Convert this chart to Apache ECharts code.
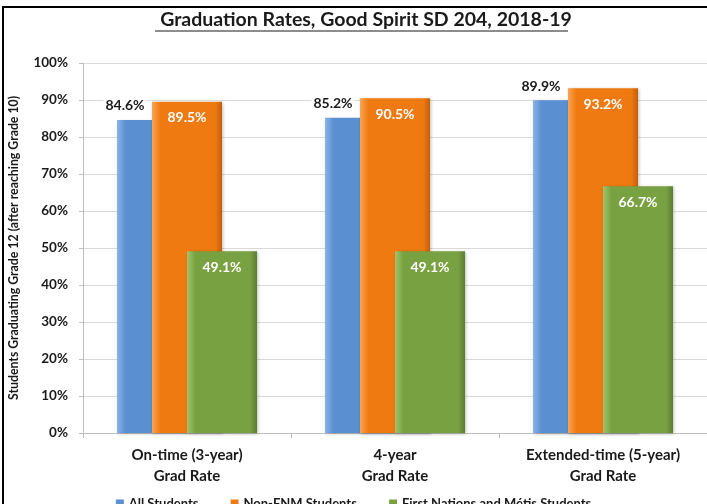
<!DOCTYPE html>
<html><head><meta charset="utf-8">
<script src="https://cdn.jsdelivr.net/npm/echarts@6/dist/echarts.min.js"></script>
<style>html,body{margin:0;padding:0;background:#fff}#c{width:707px;height:504px}</style>
</head><body><div id="c"></div>
<script>
const categories = ['On-time (3-year)\nGrad Rate', '4-year\nGrad Rate', 'Extended-time (5-year)\nGrad Rate'];
const allStudents = [84.6, 85.2, 89.9];
const nonFNM = [89.5, 90.5, 93.2];
const fnm = [49.1, 49.1, 66.7];
const seriesNames = ['All Students', 'Non-FNM Students', 'First Nations and Métis Students'];
const titleText = 'Graduation Rates, Good Spirit SD 204, 2018-19';
const yAxisName = 'Students Graduating Grade 12 (after reaching Grade 10)';

const FONT = 'Lato';
function grad(l, m, d) {
  return new echarts.graphic.LinearGradient(0, 0, 1, 0, [
    {offset: 0, color: l}, {offset: 0.12, color: m}, {offset: 0.9, color: m}, {offset: 1, color: d}
  ]);
}
const fmt = p => p.value.toFixed(1) + '%';
const chart = echarts.init(document.getElementById('c'), null, {renderer: 'canvas'});
chart.setOption({
  animation: false,
  textStyle: {fontFamily: FONT},
  title: {
    text: titleText, left: 361, top: 5, textAlign: 'center',
    textStyle: {fontFamily: FONT, fontSize: 19.5, fontWeight: 'bold', color: '#1a1a1a'}
  },
  graphic: [
    {type: 'rect', shape: {x: 3, y: 7, width: 740, height: 520}, style: {fill: 'none', stroke: '#000', lineWidth: 2}, silent: true},
    {type: 'line', shape: {x1: 155, y1: 31, x2: 568, y2: 31}, style: {stroke: '#1a1a1a', lineWidth: 1.2}, silent: true}
  ],
  legend: {
    data: seriesNames, top: 492, left: 'center',
    itemWidth: 8, itemHeight: 8, itemGap: 32, icon: 'rect',
    textStyle: {fontFamily: FONT, fontSize: 13, fontWeight: 'bold', color: '#1a1a1a'}
  },
  grid: {left: 77, right: -8, top: 63, bottom: 71, containLabel: false},
  xAxis: {
    type: 'category', data: categories,
    axisLine: {lineStyle: {color: '#bfbfbf'}},
    axisTick: {show: true, length: 5, lineStyle: {color: '#bfbfbf'}},
    axisLabel: {fontFamily: FONT, fontSize: 15, fontWeight: 'bold', color: '#1a1a1a', lineHeight: 21, margin: 12}
  },
  yAxis: {
    type: 'value', min: 0, max: 100, interval: 10,
    name: yAxisName, nameLocation: 'middle', nameGap: 63, nameRotate: 90,
    nameTextStyle: {fontFamily: FONT, fontSize: 12.3, fontWeight: 'bold', color: '#1a1a1a', width: 600, overflow: 'none'},
    axisLine: {show: true, lineStyle: {color: '#bfbfbf'}},
    axisTick: {show: true, length: 4, lineStyle: {color: '#bfbfbf'}},
    splitLine: {lineStyle: {color: '#d9d9d9'}},
    axisLabel: {formatter: '{value}%', fontFamily: FONT, fontSize: 13.5, fontWeight: 'bold', color: '#1a1a1a', margin: 15}
  },
  series: [
    {
      name: seriesNames[0], type: 'bar', data: allStudents, barWidth: 70, barGap: '-50%',
      itemStyle: {color: grad('#8db4e6', '#5a8fd2', '#3d6aa8'), shadowColor: 'rgba(0,0,0,0.25)', shadowBlur: 3, shadowOffsetX: 1, shadowOffsetY: 1},
      label: {show: true, position: 'top', offset: [-27, 0], distance: 6, formatter: fmt,
        fontFamily: FONT, fontSize: 14, fontWeight: 'bold', color: '#1a1a1a', backgroundColor: '#fff', padding: [1, 2]}
    },
    {
      name: seriesNames[1], type: 'bar', data: nonFNM, barWidth: 70, barGap: '-50%',
      itemStyle: {color: grad('#f9a455', '#f07a12', '#c45f08'), shadowColor: 'rgba(0,0,0,0.25)', shadowBlur: 3, shadowOffsetX: 1, shadowOffsetY: 1},
      label: {show: true, position: 'insideTop', distance: 9, formatter: fmt,
        fontFamily: FONT, fontSize: 14, fontWeight: 'bold', color: '#fff'}
    },
    {
      name: seriesNames[2], type: 'bar', data: fnm, barWidth: 70, barGap: '-50%',
      itemStyle: {color: grad('#a2c46c', '#78a142', '#5b7d30'), shadowColor: 'rgba(0,0,0,0.25)', shadowBlur: 3, shadowOffsetX: 1, shadowOffsetY: 1},
      label: {show: true, position: 'insideTop', distance: 9, formatter: fmt,
        fontFamily: FONT, fontSize: 14, fontWeight: 'bold', color: '#fff'}
    }
  ]
});
</script></body></html>
